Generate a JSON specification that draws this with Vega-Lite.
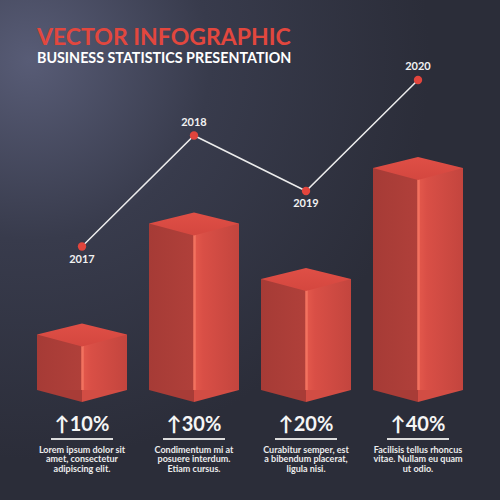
{
  "$schema": "https://vega.github.io/schema/vega-lite/v6.json",
  "width": 500,
  "height": 500,
  "padding": 0,
  "autosize": {"type": "none"},
  "background": "#2c2e3a",
  "config": {"view": {"stroke": null}, "axis": {"disable": true}},
  "title": {
    "text": "VECTOR INFOGRAPHIC",
    "subtitle": "BUSINESS STATISTICS PRESENTATION",
    "anchor": "start",
    "frame": "group",
    "orient": "top",
    "offset": -66,
    "dx": 37,
    "font": "Lato",
    "fontSize": 23,
    "fontWeight": "bold",
    "color": "#e2473e",
    "subtitleFont": "Lato",
    "subtitleFontSize": 14.3,
    "subtitleFontWeight": "bold",
    "subtitleColor": "#ffffff",
    "subtitlePadding": 2
  },
  "data": {
    "values": [
      {"year": "2017", "pct": 10, "label": "↑10%", "desc": ["Lorem ipsum dolor sit", "amet, consectetur", "adipiscing elit."]},
      {"year": "2018", "pct": 30, "label": "↑30%", "desc": ["Condimentum mi at", "posuere interdum.", "Etiam cursus."]},
      {"year": "2019", "pct": 20, "label": "↑20%", "desc": ["Curabitur semper, est", "a bibendum placerat,", "ligula nisi."]},
      {"year": "2020", "pct": 40, "label": "↑40%", "desc": ["Facilisis tellus rhoncus", "vitae. Nullam eu quam", "ut odio."]}
    ]
  },
  "encoding": {
    "x": {"field": "year", "type": "ordinal", "scale": {"type": "point", "range": [82, 418], "padding": 0}, "axis": null},
    "y": {"field": "pct", "type": "quantitative", "scale": {"domain": [0, 40], "range": [390, 168]}, "axis": null}
  },
  "layer": [
    {
      "data": {"values": [{}]},
      "mark": {"type": "rect", "color": {"gradient": "radial", "x1": 0.06, "y1": 0.12, "x2": 0.06, "y2": 0.12, "r1": 0, "r2": 0.8,
        "stops": [{"offset": 0, "color": "#585c76"}, {"offset": 0.45, "color": "#383b4c"}, {"offset": 1, "color": "#2b2d39"}]}},
      "encoding": {"x": {"value": 0}, "x2": {"value": "width"}, "y": {"value": 0}, "y2": {"value": "height"}}
    },
    {
      "mark": {"type": "line", "color": "#ececec", "strokeWidth": 1.5, "yOffset": -88}
    },
    {
      "mark": {"type": "point", "shape": "circle", "filled": true, "opacity": 1, "color": "#e2453d", "size": 70, "yOffset": -88}
    },
    {
      "transform": [{"filter": "datum.year == '2018' || datum.year == '2020'"}],
      "mark": {"type": "text", "font": "Lato", "fontSize": 11, "fontWeight": "bold", "color": "#f2f2f2", "baseline": "middle", "yOffset": -101},
      "encoding": {"text": {"field": "year"}}
    },
    {
      "transform": [{"filter": "datum.year == '2017' || datum.year == '2019'"}],
      "mark": {"type": "text", "font": "Lato", "fontSize": 11, "fontWeight": "bold", "color": "#f2f2f2", "baseline": "middle", "yOffset": -75},
      "encoding": {"text": {"field": "year"}}
    },
    {
      "mark": {"type": "bar", "width": 45, "xOffset": -22.5,
        "color": {"gradient": "linear", "x1": 0, "y1": 0, "x2": 1, "y2": 0, "stops": [{"offset": 0, "color": "#a63b36"}, {"offset": 1, "color": "#b0403a"}]}}
    },
    {
      "mark": {"type": "bar", "width": 45, "xOffset": 22.5,
        "color": {"gradient": "linear", "x1": 0, "y1": 0, "x2": 1, "y2": 0, "stops": [{"offset": 0, "color": "#e4594c"}, {"offset": 0.2, "color": "#d94f46"}, {"offset": 1, "color": "#c3453e"}]}}
    },
    {
      "mark": {"type": "bar", "width": 2.5, "xOffset": 0.5, "color": "#f2725f"}
    },
    {
      "mark": {"type": "point", "shape": "M-1,0L0,0L0,0.267Z", "size": 8100, "filled": true, "opacity": 1, "strokeWidth": 0, "color": "#a83c37"},
      "encoding": {"y": {"datum": 0}}
    },
    {
      "mark": {"type": "point", "shape": "M0,0L1,0L0,0.267Z", "size": 8100, "filled": true, "opacity": 1, "strokeWidth": 0, "color": "#d24d44"},
      "encoding": {"y": {"datum": 0}}
    },
    {
      "mark": {"type": "point", "shape": "M-1,0L0,-0.244L1,0L0,0.267Z", "size": 8100, "filled": true, "opacity": 1, "strokeWidth": 0,
        "color": {"gradient": "linear", "x1": 0, "y1": 0, "x2": 0, "y2": 1, "stops": [{"offset": 0, "color": "#df4f46"}, {"offset": 1, "color": "#d4473f"}]}}
    },
    {
      "mark": {"type": "text", "font": "Lato", "fontSize": 20, "fontWeight": "bold", "color": "#f5f5f5", "baseline": "middle", "dy": 35},
      "encoding": {"y": {"datum": 0}, "text": {"field": "label"}}
    },
    {
      "mark": {"type": "tick", "orient": "horizontal", "size": 62, "thickness": 2, "color": "#dcdcdc", "opacity": 1, "yOffset": 49},
      "encoding": {"y": {"datum": 0}}
    },
    {
      "mark": {"type": "text", "font": "Lato", "fontSize": 9, "fontWeight": "bold", "color": "#ececec", "baseline": "middle", "lineHeight": 9.3, "dy": 60},
      "encoding": {"y": {"datum": 0}, "text": {"field": "desc"}}
    }
  ]
}
